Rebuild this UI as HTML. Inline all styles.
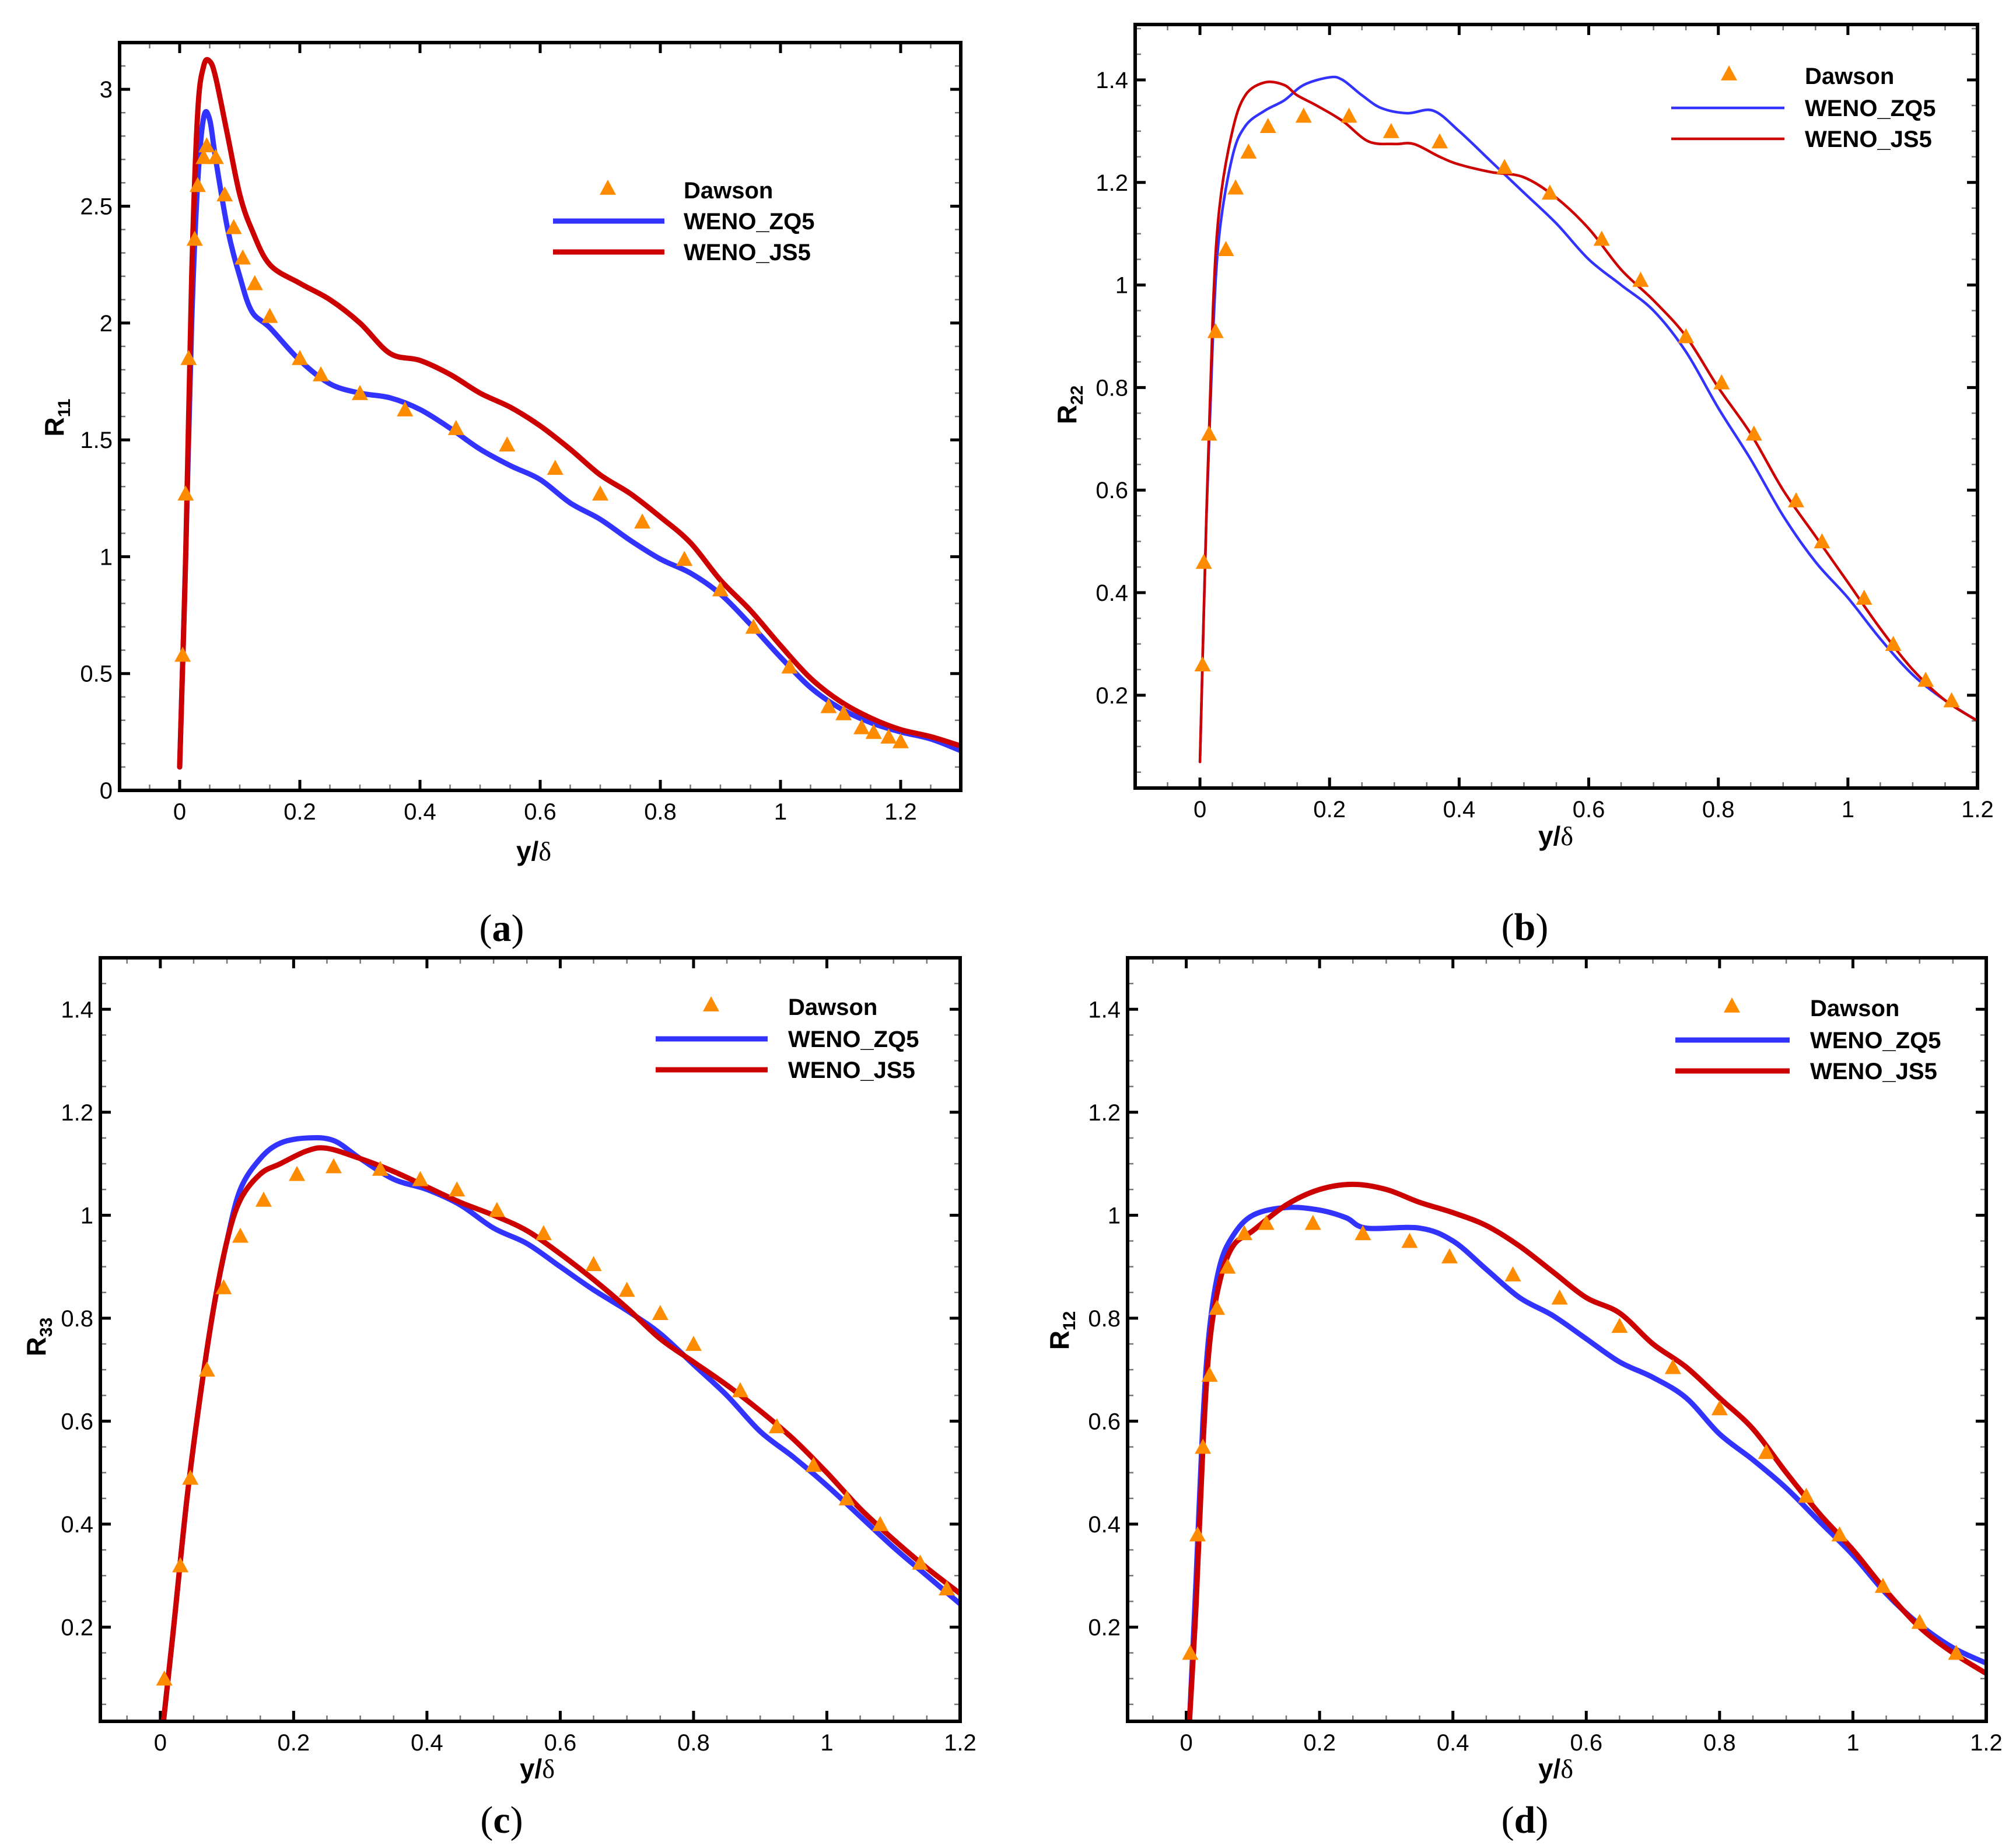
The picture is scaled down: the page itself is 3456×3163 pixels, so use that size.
<!DOCTYPE html>
<html><head><meta charset="utf-8"><style>
html,body{margin:0;padding:0;background:#fff;}
svg{display:block;font-family:"Liberation Sans",Arial,sans-serif;}
</style></head><body>
<svg id="fig" width="3456" height="3163" viewBox="0 0 3456 3163" xmlns="http://www.w3.org/2000/svg"></svg>
<script>
// ---- Panel (a) R11 ----
const aDawsonX=[0.005,0.01,0.015,0.025,0.03,0.04,0.045,0.06,0.075,0.09,0.105,0.125,0.15,0.2,0.235,0.3,0.375,0.46,0.545,0.625,0.7,0.77,0.84,0.9,0.955,1.015,1.08,1.105,1.135,1.155,1.18,1.2];
const aDawsonY=[0.58,1.27,1.85,2.36,2.59,2.71,2.76,2.71,2.55,2.41,2.28,2.17,2.03,1.85,1.78,1.70,1.63,1.55,1.48,1.38,1.27,1.15,0.99,0.86,0.70,0.53,0.36,0.33,0.27,0.25,0.23,0.21];
const aZqX=[0,0.01,0.02,0.03,0.04,0.05,0.06,0.08,0.1,0.12,0.15,0.2,0.25,0.3,0.35,0.4,0.45,0.5,0.55,0.6,0.65,0.7,0.75,0.8,0.85,0.9,0.95,1.0,1.05,1.1,1.15,1.2,1.25,1.3];
const aZqY=[0.1,1.0,2.0,2.6,2.88,2.87,2.7,2.4,2.2,2.05,1.98,1.84,1.74,1.70,1.68,1.63,1.55,1.46,1.39,1.33,1.23,1.16,1.07,0.99,0.93,0.84,0.71,0.57,0.44,0.35,0.29,0.25,0.22,0.17];
const aJsX=[0,0.01,0.02,0.03,0.04,0.05,0.06,0.08,0.1,0.12,0.15,0.2,0.25,0.3,0.35,0.4,0.45,0.5,0.55,0.6,0.65,0.7,0.75,0.8,0.85,0.9,0.95,1.0,1.05,1.1,1.15,1.2,1.25,1.3];
const aJsY=[0.1,1.0,2.2,2.9,3.1,3.12,3.05,2.8,2.55,2.4,2.25,2.17,2.1,2.0,1.87,1.84,1.78,1.70,1.64,1.56,1.46,1.35,1.27,1.17,1.06,0.9,0.77,0.62,0.48,0.38,0.31,0.26,0.23,0.19];
const aYTicks=["0","0.5","1","1.5","2","2.5","3"];
const aXTicks=["0","0.2","0.4","0.6","0.8","1","1.2"];
// ---- Panel (b) R22 ----
const bDawsonX=[0.004,0.006,0.014,0.024,0.04,0.055,0.075,0.105,0.16,0.23,0.295,0.37,0.47,0.54,0.62,0.68,0.75,0.805,0.855,0.92,0.96,1.025,1.07,1.12,1.16];
const bDawsonY=[0.26,0.46,0.71,0.91,1.07,1.19,1.26,1.31,1.33,1.33,1.30,1.28,1.23,1.18,1.09,1.01,0.90,0.81,0.71,0.58,0.50,0.39,0.30,0.23,0.19];
const bZqX=[0,0.01,0.02,0.03,0.05,0.07,0.1,0.13,0.16,0.2,0.22,0.25,0.28,0.32,0.36,0.4,0.45,0.5,0.55,0.6,0.65,0.7,0.75,0.8,0.85,0.9,0.95,1.0,1.05,1.1,1.15,1.2];
const bZqY=[0.07,0.55,0.9,1.1,1.25,1.31,1.34,1.36,1.39,1.405,1.40,1.37,1.345,1.335,1.34,1.3,1.24,1.18,1.12,1.05,1.0,0.95,0.87,0.76,0.66,0.55,0.46,0.39,0.31,0.24,0.19,0.15];
const bJsX=[0,0.01,0.02,0.03,0.05,0.07,0.1,0.13,0.15,0.18,0.22,0.26,0.3,0.33,0.37,0.4,0.45,0.5,0.55,0.6,0.65,0.7,0.75,0.8,0.85,0.9,0.95,1.0,1.05,1.1,1.15,1.2];
const bJsY=[0.07,0.55,0.95,1.15,1.3,1.37,1.395,1.39,1.37,1.35,1.32,1.28,1.275,1.275,1.25,1.235,1.22,1.21,1.17,1.11,1.03,0.97,0.9,0.8,0.71,0.6,0.51,0.42,0.33,0.25,0.19,0.15];
const bYTicks=["0.2","0.4","0.6","0.8","1","1.2","1.4"];
const bXTicks=["0","0.2","0.4","0.6","0.8","1","1.2"];
// ---- Panel (c) R33 ----
const cDawsonX=[0.006,0.03,0.045,0.07,0.095,0.12,0.155,0.205,0.26,0.33,0.39,0.445,0.505,0.575,0.65,0.70,0.75,0.80,0.87,0.925,0.98,1.03,1.08,1.14,1.18];
const cDawsonY=[0.1,0.32,0.49,0.7,0.86,0.96,1.03,1.08,1.095,1.09,1.07,1.05,1.01,0.965,0.905,0.855,0.81,0.75,0.66,0.59,0.515,0.45,0.40,0.325,0.275];
const cZqX=[0.005,0.02,0.04,0.06,0.08,0.1,0.12,0.15,0.18,0.22,0.26,0.3,0.35,0.4,0.45,0.5,0.55,0.6,0.65,0.7,0.75,0.8,0.85,0.9,0.95,1.0,1.05,1.1,1.15,1.2];
const cZqY=[0.02,0.2,0.45,0.65,0.82,0.95,1.05,1.11,1.14,1.15,1.145,1.11,1.07,1.05,1.02,0.975,0.945,0.9,0.855,0.815,0.77,0.71,0.65,0.58,0.53,0.475,0.415,0.355,0.3,0.245];
const cJsX=[0.005,0.02,0.04,0.06,0.08,0.1,0.12,0.15,0.18,0.22,0.25,0.3,0.35,0.4,0.45,0.5,0.55,0.6,0.65,0.7,0.75,0.8,0.85,0.9,0.95,1.0,1.05,1.1,1.15,1.2];
const cJsY=[0.02,0.2,0.45,0.65,0.82,0.95,1.03,1.08,1.1,1.125,1.13,1.11,1.085,1.055,1.025,1.0,0.97,0.925,0.875,0.82,0.76,0.715,0.67,0.62,0.565,0.5,0.43,0.37,0.315,0.265];
const cYTicks=["0.2","0.4","0.6","0.8","1","1.2","1.4"];
const cXTicks=["0","0.2","0.4","0.6","0.8","1","1.2"];
// ---- Panel (d) R12 ----
const dDawsonX=[0.006,0.017,0.025,0.035,0.046,0.062,0.087,0.12,0.19,0.265,0.335,0.395,0.49,0.56,0.65,0.73,0.8,0.87,0.93,0.98,1.045,1.10,1.155];
const dDawsonY=[0.15,0.38,0.55,0.69,0.82,0.90,0.965,0.985,0.985,0.965,0.95,0.92,0.885,0.84,0.785,0.705,0.625,0.54,0.455,0.38,0.28,0.21,0.15];
const dZqX=[0.005,0.015,0.025,0.035,0.05,0.07,0.1,0.15,0.2,0.24,0.27,0.35,0.4,0.45,0.5,0.55,0.6,0.65,0.7,0.75,0.8,0.85,0.9,0.95,1.0,1.05,1.1,1.15,1.2];
const dZqY=[0.02,0.3,0.6,0.78,0.9,0.96,1.0,1.015,1.01,0.995,0.975,0.975,0.95,0.895,0.84,0.805,0.76,0.715,0.685,0.645,0.575,0.525,0.47,0.405,0.34,0.265,0.205,0.16,0.13];
const dJsX=[0.005,0.015,0.025,0.035,0.05,0.07,0.1,0.15,0.2,0.25,0.3,0.35,0.4,0.45,0.5,0.55,0.6,0.65,0.7,0.75,0.8,0.85,0.9,0.95,1.0,1.05,1.1,1.15,1.2];
const dJsY=[0.02,0.25,0.55,0.75,0.87,0.94,0.97,1.02,1.05,1.06,1.05,1.025,1.005,0.98,0.94,0.89,0.84,0.81,0.75,0.705,0.645,0.585,0.5,0.42,0.35,0.27,0.2,0.15,0.11];
const dYTicks=["0.2","0.4","0.6","0.8","1","1.2","1.4"];
const dXTicks=["0","0.2","0.4","0.6","0.8","1","1.2"];

const NS="http://www.w3.org/2000/svg";
const svg=document.getElementById('fig');
function mk(tag,attrs,parent){const e=document.createElementNS(NS,tag);for(const k in attrs)e.setAttribute(k,attrs[k]);(parent||svg).appendChild(e);return e;}

const panels=[
 {id:'a',sub:'11',L:205,R:1647,T:73,B:1355,x0:-0.1,x1:1.3,y0:0,y1:3.2,yMinor:0.1,xMinor:0.05,yt:aYTicks,xt:aXTicks,dx:aDawsonX,dy:aDawsonY,zx:aZqX,zy:aZqY,jx:aJsX,jy:aJsY,lw:9,
  leg:{tx:1042,ty:326,l1:948,l2:1139,txt:1172,y:[326,379,432]},lab:[860,1591],xtl:[915,1459],ytl:[93,716]},
 {id:'b',sub:'22',L:1946,R:3390,T:42,B:1351,x0:-0.1,x1:1.2,y0:0.019,y1:1.508,yMinor:0.05,xMinor:0.05,yt:bYTicks,xt:bXTicks,dx:bDawsonX,dy:bDawsonY,zx:bZqX,zy:bZqY,jx:bJsX,jy:bJsY,lw:4.5,
  leg:{tx:2964,ty:130,l1:2865,l2:3059,txt:3094,y:[130,185,238]},lab:[2614,1589],xtl:[2667,1433],ytl:[1829,694]},
 {id:'c',sub:'33',L:172,R:1646,T:1642,B:2951,x0:-0.09,x1:1.2,y0:0.017,y1:1.5,yMinor:0.05,xMinor:0.05,yt:cYTicks,xt:cXTicks,dx:cDawsonX,dy:cDawsonY,zx:cZqX,zy:cZqY,jx:cJsX,jy:cJsY,lw:9,
  leg:{tx:1219,ty:1726,l1:1124,l2:1316,txt:1351,y:[1726,1781,1834]},lab:[860,3120],xtl:[921,3032],ytl:[62,2292]},
 {id:'d',sub:'12',L:1933,R:3405,T:1642,B:2951,x0:-0.088,x1:1.2,y0:0.017,y1:1.5,yMinor:0.05,xMinor:0.05,yt:dYTicks,xt:dXTicks,dx:dDawsonX,dy:dDawsonY,zx:dZqX,zy:dZqY,jx:dJsX,jy:dJsY,lw:9,
  leg:{tx:2969,ty:1728,l1:2872,l2:3068,txt:3103,y:[1728,1783,1836]},lab:[2614,3120],xtl:[2667,3032],ytl:[1816,2281]}
];

function tri(g,x,y,name){
  const s=14;
  const p=mk('polygon',{points:`${x},${y-s} ${x-s},${y+s*0.85} ${x+s},${y+s*0.85}`,fill:'#ff8c00'},g);
  
  
  return p;
}
function smoothPath(pts){
  let d='M'+pts[0][0]+','+pts[0][1];
  for(let i=0;i<pts.length-1;i++){
    const p0=pts[Math.max(0,i-1)],p1=pts[i],p2=pts[i+1],p3=pts[Math.min(pts.length-1,i+2)];
    const c1x=p1[0]+(p2[0]-p0[0])/6,c1y=p1[1]+(p2[1]-p0[1])/6;
    const c2x=p2[0]-(p3[0]-p1[0])/6,c2y=p2[1]-(p3[1]-p1[1])/6;
    d+=` C${c1x},${c1y} ${c2x},${c2y} ${p2[0]},${p2[1]}`;
  }
  return d;
}

panels.forEach(P=>{
  const g=mk('g',{});
  
  
  const X=v=>P.L+(v-P.x0)/(P.x1-P.x0)*(P.R-P.L);
  const Y=v=>P.B-(v-P.y0)/(P.y1-P.y0)*(P.B-P.T);
  const clipId='clip'+P.id;
  const cp=mk('clipPath',{id:clipId},g);mk('rect',{x:P.L,y:P.T,width:P.R-P.L,height:P.B-P.T},cp);
  const mt=mk('g',{stroke:'#777','stroke-width':2.5},g);
  
  
  for(let v=Math.ceil(P.y0/P.yMinor)*P.yMinor;v<=P.y1+1e-9;v+=P.yMinor){const y=Y(v);mk('line',{x1:P.L,x2:P.L+10,y1:y,y2:y},mt);mk('line',{x1:P.R,x2:P.R-10,y1:y,y2:y},mt);}
  for(let v=Math.ceil(P.x0/P.xMinor)*P.xMinor;v<=P.x1+1e-9;v+=P.xMinor){const x=X(v);mk('line',{x1:x,x2:x,y1:P.B,y2:P.B-10},mt);mk('line',{x1:x,x2:x,y1:P.T,y2:P.T+10},mt);}
  P.yt.forEach(t=>{const v=parseFloat(t),y=Y(v);
    mk('line',{x1:P.L,x2:P.L+18,y1:y,y2:y,stroke:'#000','stroke-width':5},g);
    mk('line',{x1:P.R,x2:P.R-18,y1:y,y2:y,stroke:'#000','stroke-width':5},g);
    const tx=mk('text',{x:P.L-12,y:y+14,'font-size':40,'text-anchor':'end',fill:'#000'},g);tx.textContent=t;
    
    });
  P.xt.forEach(t=>{const v=parseFloat(t),x=X(v);
    mk('line',{x1:x,x2:x,y1:P.B,y2:P.B-18,stroke:'#000','stroke-width':5},g);
    mk('line',{x1:x,x2:x,y1:P.T,y2:P.T+18,stroke:'#000','stroke-width':5},g);
    const tx=mk('text',{x:x,y:P.B+50,'font-size':40,'text-anchor':'middle',fill:'#000'},g);tx.textContent=t;
    
    });
  const cg=mk('g',{'clip-path':`url(#${clipId})`},g);
  const line=(xs,ys,col,name)=>{const pl=mk('path',{d:smoothPath(xs.map((x,i)=>[X(x),Y(ys[i])])),fill:'none',stroke:col,'stroke-width':P.lw,'stroke-linejoin':'round','stroke-linecap':'round'},cg);
    
    };
  line(P.zx,P.zy,'#3333ff','weno-zq5-line');
  line(P.jx,P.jy,'#cc0000','weno-js5-line');
  P.dx.forEach((x,i)=>tri(cg,X(x),Y(P.dy[i]),'dawson-point'));
  const fr=mk('rect',{x:P.L,y:P.T,width:P.R-P.L,height:P.B-P.T,fill:'none',stroke:'#000','stroke-width':6},g);
  
  
  const lg=mk('g',{'font-size':40,'font-weight':'bold'},g);
  
  
  tri(lg,P.leg.tx,P.leg.ty-4,'legend-dawson-marker');
  const l1=mk('line',{x1:P.leg.l1,x2:P.leg.l2,y1:P.leg.y[1],y2:P.leg.y[1],stroke:'#3333ff','stroke-width':P.lw},lg);
  
  
  const l2=mk('line',{x1:P.leg.l1,x2:P.leg.l2,y1:P.leg.y[2],y2:P.leg.y[2],stroke:'#cc0000','stroke-width':P.lw},lg);
  
  
  ['Dawson','WENO_ZQ5','WENO_JS5'].forEach((s,i)=>{const t=mk('text',{x:P.leg.txt,y:P.leg.y[i]+14,fill:'#000'},lg);t.textContent=s;
    
    });
  const xt=mk('text',{x:P.xtl[0],y:P.xtl[1]+16,'font-size':46,'font-weight':'bold','text-anchor':'middle'},g);
  xt.innerHTML='y/<tspan font-weight="normal" font-family="Liberation Serif,serif">δ</tspan>';
  
  
  const yt=mk('text',{transform:`translate(${P.ytl[0]+16},${P.ytl[1]}) rotate(-90)`,'font-size':46,'font-weight':'bold','text-anchor':'middle'},g);
  yt.innerHTML=`R<tspan font-size="30" dy="11">${P.sub}</tspan>`;
  
  
  const lb=mk('text',{x:P.lab[0],y:P.lab[1]+22,'font-size':66,'font-family':'Liberation Serif,serif','text-anchor':'middle'},g);
  lb.innerHTML=`(<tspan font-weight="bold">${P.id}</tspan>)`;
  
  
});
</script>
</body></html>
